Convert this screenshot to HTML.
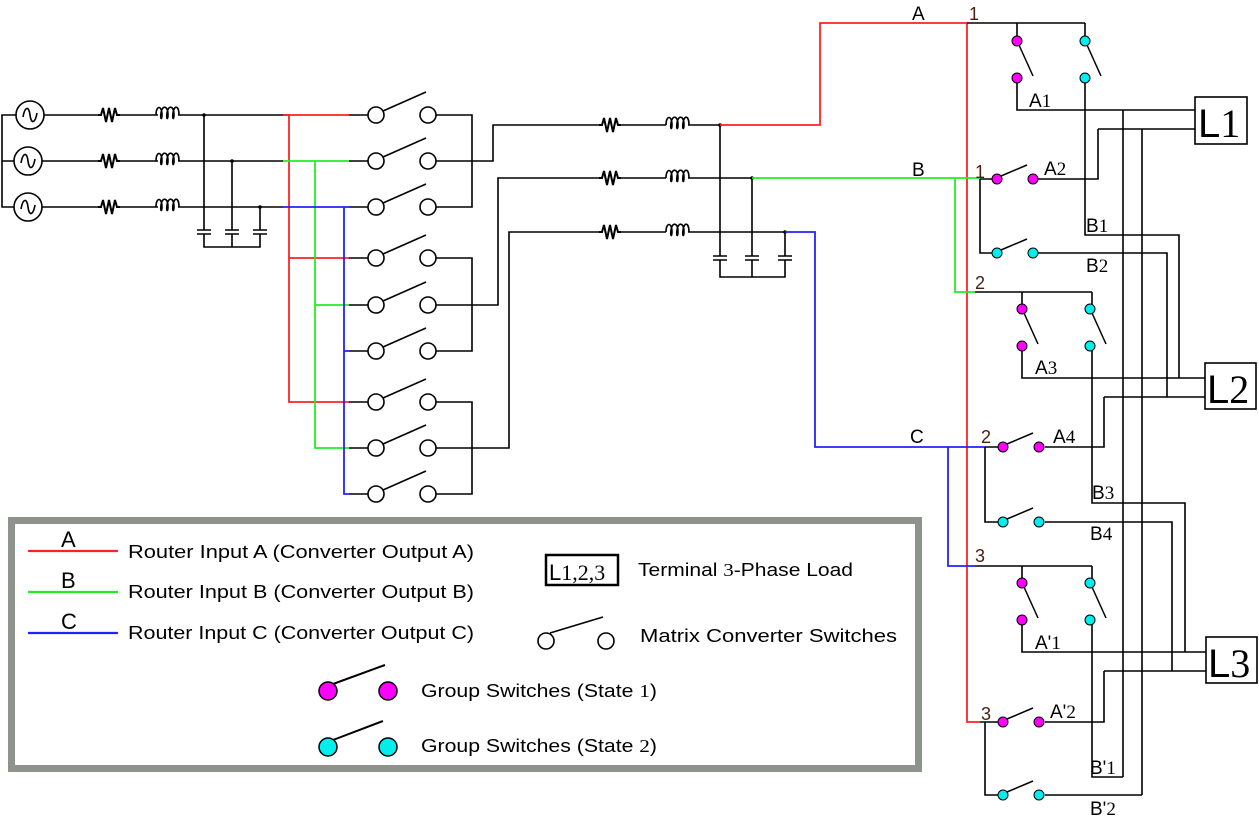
<!DOCTYPE html>
<html><head><meta charset="utf-8"><style>
html,body{margin:0;padding:0;background:#fff;}
svg{display:block;}
text{font-family:"Liberation Sans",sans-serif;}
.s{font-family:"Liberation Serif",serif;}
</style></head><body>
<svg width="1259" height="817" viewBox="0 0 1259 817" xmlns="http://www.w3.org/2000/svg">
<defs>
<g id="res"><path d="M-10,0 L-7,0 L-5,-7 L-2,7 L1,-7 L4,7 L7,-7 L9,0 L12,0" fill="none" stroke="#000" stroke-width="2"/></g>
<g id="ind"><path d="M-11,0 C-11,-10 -5,-10 -5,0 C-5,5 -7,5 -6,-2 C-5,-10 1,-10 1,0 C1,5 -1,5 0,-2 C1,-10 7,-10 7,0 C7,5 5,5 6,-2 C7,-10 12,-10 12,0" fill="none" stroke="#000" stroke-width="1.6"/></g>
<g id="cap"><path d="M0,-8 V-2 M-7,-2 H7 M-7,2 H7 M0,2 V8" fill="none" stroke="#000" stroke-width="1.6"/></g>
<g id="src"><circle cx="0" cy="0" r="14" fill="#fff" stroke="#000" stroke-width="1.6"/><path d="M-7,2 C-5,-9 -1,-9 0,0 C1,9 5,9 7,-2" fill="none" stroke="#000" stroke-width="1.6"/></g>
<g id="msw"><circle cx="0" cy="0" r="8" fill="#fff" stroke="#000" stroke-width="1.6"/><circle cx="52" cy="0" r="8" fill="#fff" stroke="#000" stroke-width="1.6"/><line x1="7" y1="-4" x2="50" y2="-23" stroke="#000" stroke-width="1.6"/></g>
<g id="hsw1"><line x1="4" y1="-3" x2="30" y2="-14" stroke="#000" stroke-width="1.5"/><circle cx="0" cy="0" r="5" fill="#f0f" stroke="#000"/><circle cx="36" cy="0" r="5" fill="#f0f" stroke="#000"/></g>
<g id="hsw2"><line x1="4" y1="-3" x2="30" y2="-14" stroke="#000" stroke-width="1.5"/><circle cx="0" cy="0" r="5" fill="#0ee" stroke="#000"/><circle cx="36" cy="0" r="5" fill="#0ee" stroke="#000"/></g>
<g id="vsw"><line x1="2" y1="4" x2="16" y2="35" stroke="#000" stroke-width="1.5"/><circle cx="0" cy="0" r="5" fill="#f0f" stroke="#000"/><circle cx="0" cy="37" r="5" fill="#f0f" stroke="#000"/>
<line x1="70" y1="4" x2="84" y2="35" stroke="#000" stroke-width="1.5"/><circle cx="68" cy="0" r="5" fill="#0ee" stroke="#000"/><circle cx="68" cy="37" r="5" fill="#0ee" stroke="#000"/></g>
</defs>

<g fill="none" stroke="#000" stroke-width="1.6">
<path d="M16,115 H2 V207 H14 M2,161 H14"/>
<path d="M44,115 H100 M118,115 H158 M178,115 H289 M42,161 H100 M118,161 H158 M178,161 H283 M42,207 H100 M118,207 H158 M178,207 H283"/>
<path d="M204,115 V224 M232,161 V224 M260,207 V224 M204,240 V247 H260 V240 M232,240 V247"/>
<path d="M349,115 H368 M349,161 H368 M349,207 H368 M349,258 H368 M349,305 H368 M349,351 H368 M349,402 H368 M349,448 H368 M349,494 H368"/>
<path d="M436,115 H472 V207 H436 M436,161 H493 V125 H602 M620,125 H666 M688,125 H720 M436,207 H472"/>
<path d="M436,258 H472 V351 H436 M436,305 H498 V178 H602 M620,178 H666 M688,178 H752 M436,351 H472"/>
<path d="M436,402 H472 V494 H436 M436,448 H509 V232 H602 M620,232 H666 M688,232 H785"/>
<path d="M720,125 V250 M752,178 V250 M785,232 V250 M720,266 V277 H785 V266 M752,266 V277"/>
</g>
<g fill="#000"><circle cx="204" cy="115" r="1.8"/><circle cx="232" cy="161" r="1.8"/><circle cx="260" cy="207" r="1.8"/><circle cx="720" cy="125" r="1.8"/><circle cx="752" cy="178" r="1.8"/><circle cx="785" cy="232" r="1.8"/></g>
<use href="#src" x="30" y="115"/><use href="#src" x="28" y="161"/><use href="#src" x="28" y="207"/>
<use href="#res" x="108" y="115"/><use href="#res" x="108" y="161"/><use href="#res" x="108" y="207"/>
<use href="#ind" x="167" y="115"/><use href="#ind" x="167" y="161"/><use href="#ind" x="167" y="207"/>
<use href="#cap" x="204" y="232"/><use href="#cap" x="232" y="232"/><use href="#cap" x="260" y="232"/>
<use href="#res" x="609" y="125"/><use href="#res" x="609" y="178"/><use href="#res" x="609" y="232"/>
<use href="#ind" x="677" y="125"/><use href="#ind" x="677" y="178"/><use href="#ind" x="677" y="232"/>
<use href="#cap" x="720" y="258"/><use href="#cap" x="752" y="258"/><use href="#cap" x="785" y="258"/>

<path d="M283,115 H349 M289,115 V402 H349 M289,258 H349" stroke="#f22" stroke-width="1.8" fill="none"/>
<path d="M283,161 H349 M315,161 V448 H349 M315,305 H349" stroke="#2e2" stroke-width="1.8" fill="none"/>
<path d="M283,207 H349 M344,207 V494 H349 M344,351 H349" stroke="#22f" stroke-width="1.8" fill="none"/>

<use href="#msw" x="376" y="115"/><use href="#msw" x="376" y="161"/><use href="#msw" x="376" y="207"/>
<use href="#msw" x="376" y="258"/><use href="#msw" x="376" y="305"/><use href="#msw" x="376" y="351"/>
<use href="#msw" x="376" y="402"/><use href="#msw" x="376" y="448"/><use href="#msw" x="376" y="494"/>

<path d="M720,125 H820 V23 H967 V722 H980" stroke="#f22" stroke-width="1.8" fill="none"/>
<path d="M752,178 H980 M955,178 V292 H975" stroke="#2e2" stroke-width="1.8" fill="none"/>
<path d="M785,232 H815 V447 H985 M948,447 V566 H975" stroke="#22f" stroke-width="1.8" fill="none"/>
<text x="912" y="20" font-size="19">A</text>
<text x="912" y="176" font-size="19">B</text>
<text x="910" y="443" font-size="19">C</text>

<g fill="none" stroke="#000" stroke-width="1.6">
<path d="M967,23 H1085 M1017,23 V36 M1085,23 V36"/>
<path d="M1017,83 V110 H1195 M1098,129 H1195 M1098,129 V179 H1038"/>
<path d="M1085,83 V235 H1179 V378"/>
<path d="M980,179 H992 M980,179 V253 H992 M1038,253 H1167 V397"/>
<path d="M1123,110 V777 M1142,129 V795"/>
<path d="M975,292 H1092 M1022,292 V304 M1092,292 V304"/>
<path d="M1022,349 V378 H1205 M1104,397 H1205 M1104,397 V447 H1045"/>
<path d="M1092,349 V503 H1185 V652"/>
<path d="M985,447 H998 M985,447 V522 H998 M1045,522 H1172 V671"/>
<path d="M975,566 H1092 M1022,566 V578 M1092,566 V578"/>
<path d="M1022,625 V652 H1206 M1104,671 H1206 M1104,671 V722 H1045"/>
<path d="M1092,625 V777 H1123"/>
<path d="M980,722 H998 M985,722 V795 H998 M1045,795 H1142"/>
</g>
<use href="#vsw" x="1017" y="41"/>
<use href="#hsw1" x="997" y="179"/><use href="#hsw2" x="997" y="253"/>
<use href="#vsw" x="1022" y="309"/>
<use href="#hsw1" x="1003" y="447"/><use href="#hsw2" x="1003" y="522"/>
<use href="#vsw" x="1022" y="583"/>
<use href="#hsw1" x="1003" y="722"/><use href="#hsw2" x="1003" y="795"/>

<rect x="1195" y="97" width="52" height="47" fill="#fff" stroke="#000" stroke-width="1.6"/>
<text x="1198" y="137" font-size="40">L<tspan class="s">1</tspan></text>
<rect x="1205" y="363" width="51" height="46" fill="#fff" stroke="#000" stroke-width="1.6"/>
<text x="1207" y="403" font-size="40">L<tspan class="s">2</tspan></text>
<rect x="1206" y="637" width="51" height="46" fill="#fff" stroke="#000" stroke-width="1.6"/>
<text x="1208" y="677" font-size="40">L<tspan class="s">3</tspan></text>

<g font-size="19">
<text x="1029" y="107">A<tspan class="s">1</tspan></text>
<text x="1044" y="175">A<tspan class="s">2</tspan></text>
<text x="1086" y="232">B<tspan class="s">1</tspan></text>
<text x="1086" y="272">B<tspan class="s">2</tspan></text>
<text x="1035" y="374">A<tspan class="s">3</tspan></text>
<text x="1053" y="443">A<tspan class="s">4</tspan></text>
<text x="1092" y="499">B<tspan class="s">3</tspan></text>
<text x="1090" y="540">B<tspan class="s">4</tspan></text>
<text x="1035" y="649">A'<tspan class="s">1</tspan></text>
<text x="1050" y="718">A'<tspan class="s">2</tspan></text>
<text x="1090" y="774">B'<tspan class="s">1</tspan></text>
<text x="1090" y="815">B'<tspan class="s">2</tspan></text>
</g>
<g class="s" font-size="18" fill="#4a2010" style="font-family:'Liberation Serif',serif">
<text x="969" y="20">1</text><text x="975" y="178">1</text><text x="975" y="289">2</text>
<text x="981" y="443">2</text><text x="975" y="562">3</text><text x="981" y="720">3</text>
</g>

<rect x="11.5" y="520.5" width="907" height="248" fill="#fff" stroke="#8e948d" stroke-width="7"/>
<line x1="28" y1="551" x2="118" y2="551" stroke="#f22" stroke-width="2.2"/>
<line x1="28" y1="592" x2="118" y2="592" stroke="#2e2" stroke-width="2.2"/>
<line x1="28" y1="633" x2="118" y2="633" stroke="#22f" stroke-width="2.2"/>
<g font-size="22"><text x="61" y="547">A</text><text x="61" y="588">B</text><text x="61" y="629">C</text></g>
<g font-size="18">
<text x="128" y="558" textLength="346" lengthAdjust="spacingAndGlyphs">Router Input A (Converter Output A)</text>
<text x="128" y="598" textLength="346" lengthAdjust="spacingAndGlyphs">Router Input B (Converter Output B)</text>
<text x="128" y="639" textLength="346" lengthAdjust="spacingAndGlyphs">Router Input C (Converter Output C)</text>
<text x="638" y="576" textLength="215" lengthAdjust="spacingAndGlyphs">Terminal <tspan class="s">3</tspan>-Phase Load</text>
<text x="640" y="642" textLength="257" lengthAdjust="spacingAndGlyphs">Matrix Converter Switches</text>
<text x="421" y="697" textLength="236" lengthAdjust="spacingAndGlyphs">Group Switches (State <tspan class="s">1</tspan>)</text>
<text x="421" y="752" textLength="236" lengthAdjust="spacingAndGlyphs">Group Switches (State <tspan class="s">2</tspan>)</text>
</g>
<rect x="546" y="555" width="72" height="30" fill="#fff" stroke="#000" stroke-width="2.5"/>
<text x="549" y="580" font-size="22">L<tspan class="s">1,2,3</tspan></text>
<line x1="550" y1="633" x2="603" y2="617" stroke="#000" stroke-width="1.6"/>
<circle cx="546" cy="641" r="8" fill="#fff" stroke="#000" stroke-width="1.6"/>
<circle cx="606" cy="641" r="8" fill="#fff" stroke="#000" stroke-width="1.6"/>
<line x1="333" y1="684" x2="385" y2="665" stroke="#000" stroke-width="2"/>
<circle cx="328" cy="691" r="9" fill="#f0f" stroke="#000" stroke-width="1.5"/>
<circle cx="388" cy="691" r="9" fill="#f0f" stroke="#000" stroke-width="1.5"/>
<line x1="333" y1="740" x2="383" y2="721" stroke="#000" stroke-width="2"/>
<circle cx="328" cy="747" r="9" fill="#0ee" stroke="#000" stroke-width="1.5"/>
<circle cx="388" cy="747" r="9" fill="#0ee" stroke="#000" stroke-width="1.5"/>
</svg>
</body></html>
